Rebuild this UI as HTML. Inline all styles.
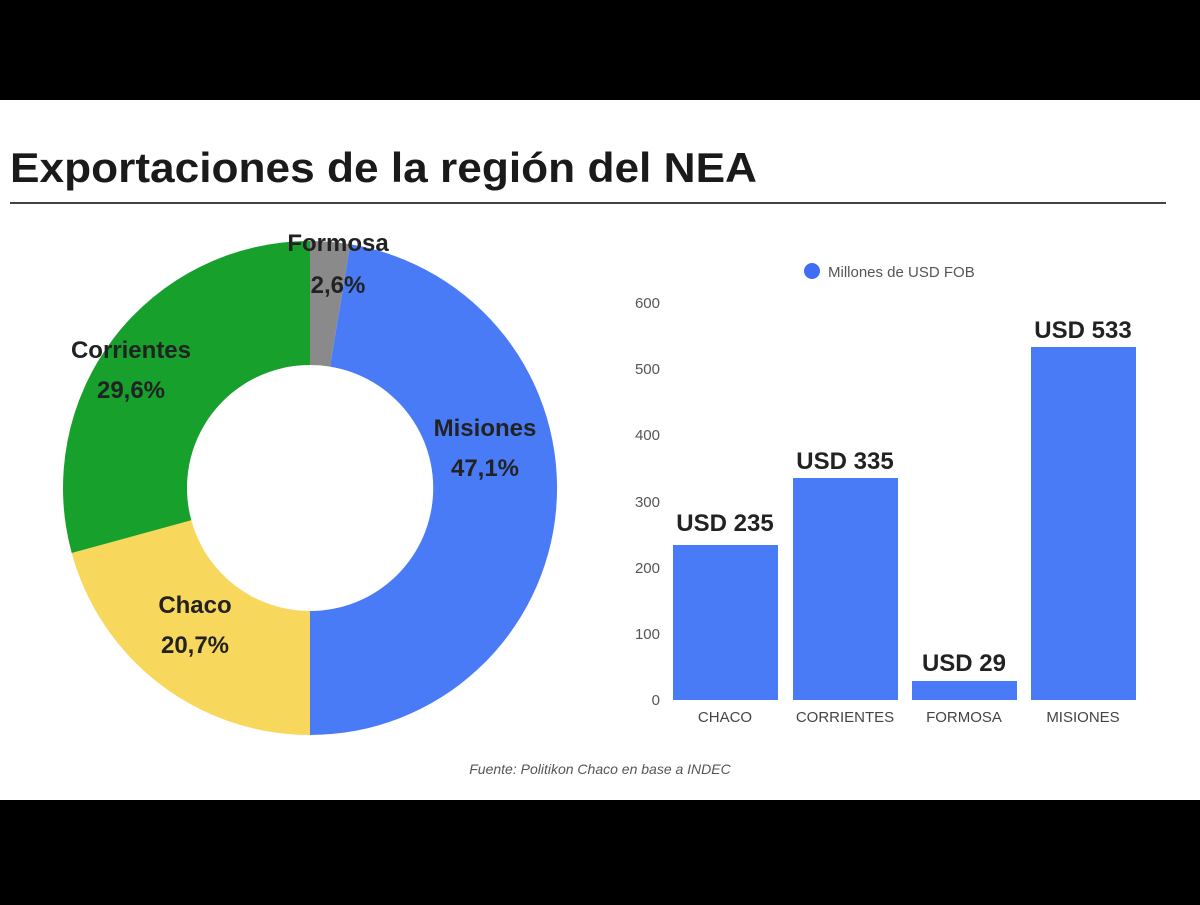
<!DOCTYPE html>
<html><head><meta charset="utf-8"><style>
body{margin:0;width:1200px;height:900px;background:#000;overflow:hidden}
</style></head><body>
<svg width="1200" height="900" xmlns="http://www.w3.org/2000/svg" font-family="Liberation Sans, sans-serif">
<rect x="0" y="100" width="1200" height="700" fill="#fff"/>
<text x="10" y="182" font-size="42" font-weight="bold" fill="#1a1a1a" textLength="747" lengthAdjust="spacingAndGlyphs">Exportaciones de la región del NEA</text>
<rect x="10" y="202" width="1156" height="2" fill="#444"/>
<path d="M310,241 A247,247 0 0 1 350.3,244.3 L330,366.6 A123,123 0 0 0 310,365 Z" fill="#8a8a8a"/>
<path d="M350.3,244.3 A247,247 0 0 1 310,735 L310,611 A123,123 0 0 0 330,366.6 Z" fill="#4a7bf6"/>
<path d="M310,735 A247,247 0 0 1 71.7,553 L191.3,520.3 A123,123 0 0 0 310,611 Z" fill="#f8d85c"/>
<path d="M71.7,553 A247,247 0 0 1 310,241 L310,365 A123,123 0 0 0 191.3,520.3 Z" fill="#17a02b"/>
<g font-size="24" font-weight="bold" fill="#222" text-anchor="middle">
<text x="338" y="251">Formosa</text><text x="338" y="293">2,6%</text>
<text x="131" y="358">Corrientes</text><text x="131" y="398">29,6%</text>
<text x="485" y="436">Misiones</text><text x="485" y="476">47,1%</text>
<text x="195" y="613">Chaco</text><text x="195" y="653">20,7%</text>
</g>
<circle cx="812" cy="271" r="8" fill="#3f6ef5"/>
<text x="828" y="277" font-size="15" fill="#555">Millones de USD FOB</text>
<g font-size="15" fill="#555" text-anchor="end">
<text x="660" y="308">600</text><text x="660" y="374">500</text><text x="660" y="440">400</text>
<text x="660" y="507">300</text><text x="660" y="573">200</text><text x="660" y="639">100</text><text x="660" y="705">0</text>
</g>
<g fill="#4a7bf6">
<rect x="673" y="545" width="105" height="155"/>
<rect x="793" y="478" width="105" height="222"/>
<rect x="912" y="681" width="105" height="19"/>
<rect x="1031" y="347" width="105" height="353"/>
</g>
<g font-size="24" font-weight="bold" fill="#222" text-anchor="middle">
<text x="725" y="531">USD 235</text><text x="845" y="469">USD 335</text>
<text x="964" y="671">USD 29</text><text x="1083" y="338">USD 533</text>
</g>
<g font-size="15" fill="#444" text-anchor="middle">
<text x="725" y="722">CHACO</text><text x="845" y="722">CORRIENTES</text>
<text x="964" y="722">FORMOSA</text><text x="1083" y="722">MISIONES</text>
</g>
<text x="600" y="774" font-size="14" font-style="italic" fill="#555" text-anchor="middle">Fuente: Politikon Chaco en base a INDEC</text>
</svg>
</body></html>
